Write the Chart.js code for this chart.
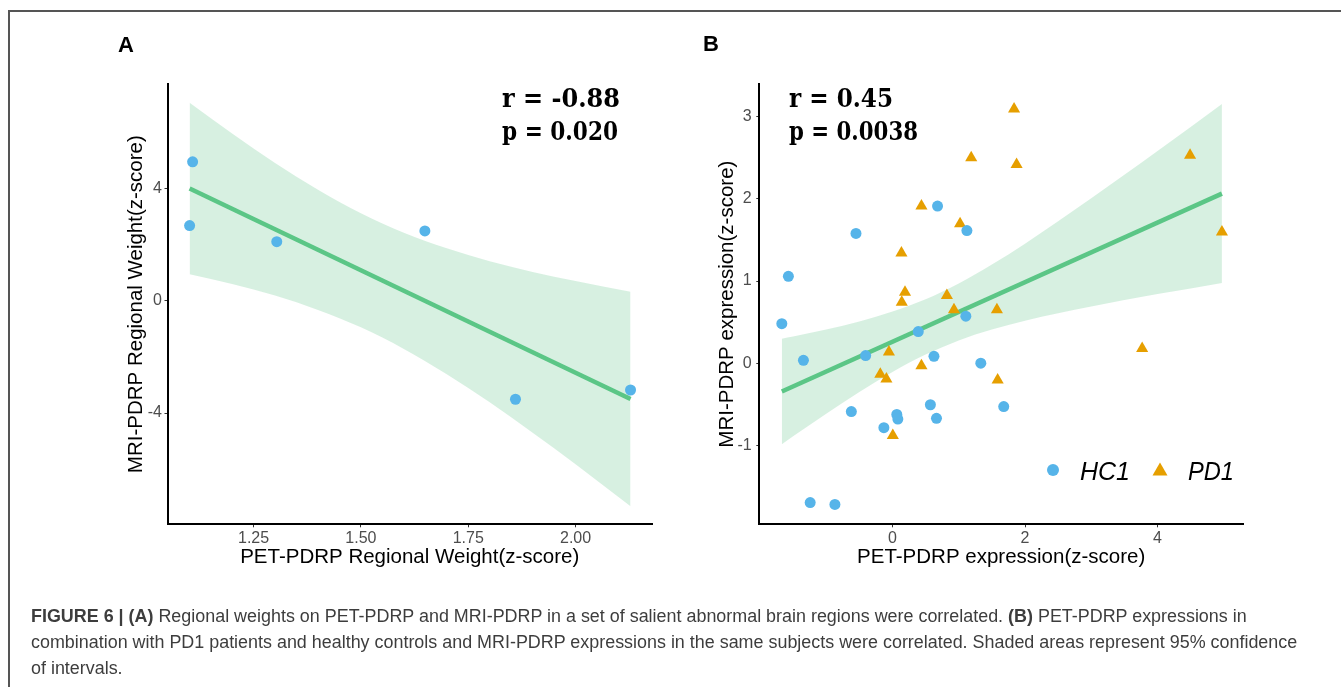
<!DOCTYPE html>
<html>
<head>
<meta charset="utf-8">
<script src="https://cdn.jsdelivr.net/npm/chart.js@4.4.1/dist/chart.umd.min.js"></script>
<style>
    body { margin: 0; background: #fff; width: 1341px; height: 687px; overflow: hidden; position: relative; }
    #frame { position: absolute; left: 8px; top: 10px; width: 1340px; height: 690px; border-top: 2px solid #555; border-left: 2px solid #555; }
    canvas { position: absolute; }
    #overlay { position: absolute; left: 0; top: 0; }
</style>
</head>
<body>
<div id="frame"></div>
<canvas id="chartA" width="560" height="560" style="left:100px;top:20px"></canvas>
<canvas id="chartB" width="560" height="560" style="left:690px;top:20px"></canvas>
<svg id="overlay" width="1341" height="687">
    <g font-family="'Liberation Sans', Arial, sans-serif" font-weight="bold" font-size="22" fill="#000">
        <text x="118" y="51.5">A</text>
        <text x="703" y="50.5">B</text>
    </g>
    <g font-family="'DejaVu Serif', 'Liberation Serif', serif" font-weight="bold" font-size="26.5" fill="#000">
        <text x="502" y="107" textLength="118" lengthAdjust="spacingAndGlyphs">r = -0.88</text>
        <text x="502" y="140" textLength="116" lengthAdjust="spacingAndGlyphs">p = 0.020</text>
        <text x="789" y="107" textLength="104" lengthAdjust="spacingAndGlyphs">r = 0.45</text>
        <text x="789" y="140" textLength="129" lengthAdjust="spacingAndGlyphs">p = 0.0038</text>
    </g>
    <g font-family="'Liberation Sans', Arial, sans-serif" font-style="italic" font-size="25" fill="#000">
        <circle cx="1053" cy="470" r="6" fill="#56B4E9"></circle>
        <text x="1080" y="480" textLength="50" lengthAdjust="spacingAndGlyphs">HC1</text>
        <polygon points="1160,462.5 1152.5,475.5 1167.5,475.5" fill="#E69F00"></polygon>
        <text x="1188" y="480" textLength="46" lengthAdjust="spacingAndGlyphs">PD1</text>
    </g>
    <g id="caption" font-family="'Liberation Sans', Arial, sans-serif" font-size="18.5" fill="#3d3d3d">
        <text id="cap1" x="0" y="622"><tspan font-weight="bold">FIGURE 6 | (A)</tspan> Regional weights on PET-PDRP and MRI-PDRP in a set of salient abnormal brain regions were correlated. <tspan font-weight="bold">(B)</tspan> PET-PDRP expressions in</text>
        <text id="cap2" x="0" y="648">combination with PD1 patients and healthy controls and MRI-PDRP expressions in the same subjects were correlated. Shaded areas represent 95% confidence</text>
        <text id="cap3" x="0" y="674">of intervals.</text>
    </g>
</svg>
<script>
// Panel A: regional weights
const regionPet = [1.108, 1.101, 1.304, 1.649, 1.860, 2.128];
const regionMri = [4.94, 2.67, 2.10, 2.48, -3.51, -3.18];
const fitAx = [1.101, 2.128];
const fitAy = [3.99, -3.50];
const bandAx = [1.101, 1.2, 1.3, 1.4, 1.5, 1.6, 1.7, 1.8, 1.9, 2.0, 2.128];
const bandAupper = [7.04, 5.95, 4.90, 3.95, 3.11, 2.42, 1.86, 1.40, 1.02, 0.70, 0.32];
const bandAlower = [0.94, 0.59, 0.18, -0.33, -0.95, -1.72, -2.62, -3.62, -4.70, -5.82, -7.32];
const ticksAx = [1.25, 1.50, 1.75, 2.00];
const ticksAy = [-4, 0, 4];

// Panel B: subject expressions
const hc1Pet = [-1.571, -1.670, -1.344, -0.551, -0.405, -0.621, -1.242, -0.869, -0.130, 0.065,
                0.081, 0.389, 0.626, 0.572, 0.664, 0.680, 1.123, 1.107, 1.333, 1.679];
const hc1Mri = [1.057, 0.483, 0.039, 1.578, 0.096, -0.583, -1.687, -1.709, -0.778, -0.617,
                -0.674, 0.387, 0.087, -0.500, -0.665, 1.909, 1.613, 0.574, 0.004, -0.522];
const pd1Pet = [1.835, 1.188, 1.873, 4.491, 0.437, 1.020, 4.972, 0.135, 0.189, 0.140,
                0.821, 0.928, 1.576, 3.768, -0.054, 0.437, -0.184, -0.092, 1.587, 0.005];
const pd1Mri = [3.087, 2.496, 2.413, 2.526, 1.909, 1.696, 1.596, 1.339, 0.865, 0.743,
                0.826, 0.652, 0.652, 0.183, 0.139, -0.026, -0.130, -0.187, -0.200, -0.874];
const fitBx = [-1.670, 4.972];
const fitBy = [-0.340, 2.061];
const bandBx = [-1.670, -1.5, -1.0, -0.5, 0, 0.5, 1.0, 1.5, 2.0, 2.5, 3.0, 3.5, 4.0, 4.5, 4.972];
const bandBupper = [0.300, 0.327, 0.412, 0.511, 0.630, 0.779, 0.970, 1.200, 1.454, 1.724, 2.004, 2.289, 2.578, 2.869, 3.146];
const bandBlower = [-0.978, -0.883, -0.608, -0.345, -0.102, 0.109, 0.280, 0.412, 0.520, 0.610, 0.692, 0.769, 0.842, 0.911, 0.976];
const ticksBx = [0, 2, 4];
const ticksBy = [-1, 0, 1, 2, 3];

const blue = '#56B4E9';
const orange = '#E69F00';
const fitColor = '#5BC686';
const bandColor = 'rgba(100, 196, 140, 0.26)';
const sans = 'Liberation Sans, Arial, sans-serif';

function toXY(xs, ys) {
    return xs.map(function (x, i) { return { x: x, y: ys[i] }; });
}

function bandSets(xs, upper, lower) {
    return [
        { data: toXY(xs, lower), showLine: true, pointRadius: 0, borderColor: 'rgba(0,0,0,0)', fill: false, cubicInterpolationMode: 'monotone', order: 3 },
        { data: toXY(xs, upper), showLine: true, pointRadius: 0, borderColor: 'rgba(0,0,0,0)', backgroundColor: bandColor, fill: '-1', cubicInterpolationMode: 'monotone', order: 2 }
    ];
}

function fitSet(xs, ys) {
    return { data: toXY(xs, ys), showLine: true, pointRadius: 0, borderColor: fitColor, borderWidth: 4.5, fill: false, order: 1 };
}

function axis(o) {
    return {
        type: 'linear',
        min: o.min,
        max: o.max,
        afterBuildTicks: function (s) { s.ticks = o.ticks.map(function (v) { return { value: v }; }); },
        afterFit: function (s) { if (o.width) s.width = o.width; if (o.height) s.height = o.height; },
        ticks: { color: '#4d4d4d', font: { family: sans, size: 16 }, padding: o.tickPad, callback: o.fmt },
        grid: { display: true, drawOnChartArea: false, drawTicks: true, tickLength: 3, color: '#333', lineWidth: 1 },
        border: { display: true, color: '#000', width: 2 },
        title: { display: true, text: o.title, color: '#000', font: { family: sans, size: 20.5 }, padding: o.titlePad }
    };
}

function options(x, y, padRight) {
    return {
        responsive: false,
        animation: false,
        events: [],
        layout: { padding: { top: 64, right: padRight, left: 0, bottom: 0 } },
        plugins: { legend: { display: false }, tooltip: { enabled: false } },
        scales: { x: axis(x), y: axis(y) }
    };
}

document.fonts.ready.then(function () {
    try {
        new Chart(document.getElementById('chartA').getContext('2d'), {
            type: 'scatter',
            data: {
                datasets: bandSets(bandAx, bandAupper, bandAlower).concat([
                    fitSet(fitAx, fitAy),
                    { data: toXY(regionPet, regionMri), pointRadius: 5.5, backgroundColor: blue, borderWidth: 0, order: 0 }
                ])
            },
            options: options(
                { min: 1.0495, max: 2.178, ticks: ticksAx, height: 55.7, tickPad: 2, fmt: function (v) { return v.toFixed(2); },
                  title: 'PET-PDRP Regional Weight(z-score)', titlePad: { top: 0, bottom: 10.7 } },
                { min: -7.96, max: 7.71, ticks: ticksAy, width: 67.5, tickPad: 2.5, fmt: function (v) { return String(v); },
                  title: 'MRI-PDRP Regional Weight(z-score)', titlePad: { top: 23.7, bottom: 0 } },
                8)
        });
    } catch (error) {
        console.error('Erro no painel A:', error);
    }
    try {
        new Chart(document.getElementById('chartB').getContext('2d'), {
            type: 'scatter',
            data: {
                datasets: bandSets(bandBx, bandBupper, bandBlower).concat([
                    fitSet(fitBx, fitBy),
                    { label: 'HC1', data: toXY(hc1Pet, hc1Mri), pointRadius: 5.5, backgroundColor: blue, borderWidth: 0, order: 0 },
                    { label: 'PD1', data: toXY(pd1Pet, pd1Mri), pointStyle: 'triangle', pointRadius: 7, backgroundColor: orange, borderWidth: 0, order: 0 }
                ])
            },
            options: options(
                { min: -2.01, max: 5.29, ticks: ticksBx, height: 55.7, tickPad: 2, fmt: function (v) { return String(v); },
                  title: 'PET-PDRP expression(z-score)', titlePad: { top: 0, bottom: 10.7 } },
                { min: -1.95, max: 3.39, ticks: ticksBy, width: 69.3, tickPad: 4.6, fmt: function (v) { return String(v); },
                  title: 'MRI-PDRP expression(z-score)', titlePad: { top: 25.4, bottom: 0 } },
                5.4)
        });
    } catch (error) {
        console.error('Erro no painel B:', error);
    }

    // caption squeezed to the reference line width
    const w = document.getElementById('cap2').getComputedTextLength();
    const k = 1267 / w;
    document.getElementById('caption').setAttribute('transform', 'translate(31 0) scale(' + k + ' 1)');
});
</script>
</body>
</html>
